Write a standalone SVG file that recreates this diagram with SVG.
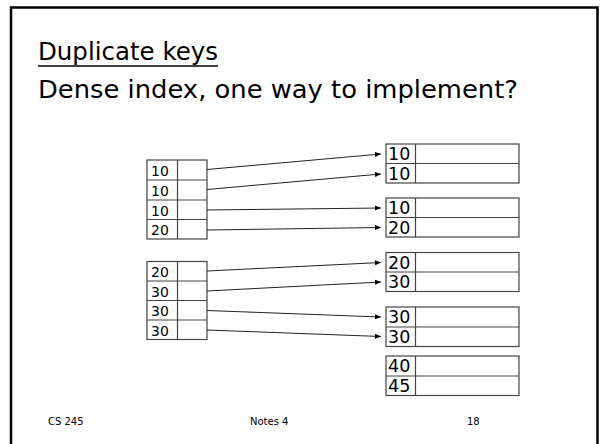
<svg xmlns="http://www.w3.org/2000/svg" width="600" height="444" viewBox="0 0 600 444">
<defs>
<marker id="ah" viewBox="0 0 6 6" refX="6" refY="3" markerWidth="6" markerHeight="6" markerUnits="userSpaceOnUse" orient="auto">
<path d="M0,0.5 L6,3 L0,5.5 Z" fill="#000"/>
</marker>
<style>
.box{fill:#fff;stroke:#444;stroke-width:1.2}
.ln{stroke:#444;stroke-width:1.2;fill:none}
.ix{font-family:"DejaVu Sans","Liberation Sans",sans-serif;font-size:14px;fill:#000}
.dv{font-family:"DejaVu Sans","Liberation Sans",sans-serif;font-size:17.5px;fill:#000}
.ttl{font-family:"DejaVu Sans","Liberation Sans",sans-serif;font-size:25px;fill:#000}
.ft{font-family:"DejaVu Sans","Liberation Sans",sans-serif;font-size:10px;fill:#000}
.arr{stroke:#222;stroke-width:1;fill:none;marker-end:url(#ah)}
</style>
</defs>
<rect x="0" y="0" width="600" height="444" fill="#fff"/>
<path d="M11,450 V7.5 H597.5 V450" fill="none" stroke="#000" stroke-width="2.5"/>
<g id="title">
<text class="ttl" x="38" y="60" textLength="180" lengthAdjust="spacingAndGlyphs">Duplicate keys</text>
<line x1="38" y1="66" x2="218" y2="66" stroke="#000" stroke-width="1.5"/>
<text class="ttl" x="38" y="98" textLength="480" lengthAdjust="spacingAndGlyphs">Dense index, one way to implement?</text>
</g>
<g id="index1">
<rect class="box" x="147" y="160" width="60" height="79"/>
<line class="ln" x1="177.5" y1="160" x2="177.5" y2="239"/>
<line class="ln" x1="147" y1="180" x2="207" y2="180"/>
<line class="ln" x1="147" y1="200" x2="207" y2="200"/>
<line class="ln" x1="147" y1="219.5" x2="207" y2="219.5"/>
<text class="ix" x="151" y="176">10</text>
<text class="ix" x="151" y="196">10</text>
<text class="ix" x="151" y="215.5">10</text>
<text class="ix" x="151" y="235">20</text>
</g>
<g id="index2">
<rect class="box" x="147" y="261.5" width="60" height="78"/>
<line class="ln" x1="177.5" y1="261.5" x2="177.5" y2="339.5"/>
<line class="ln" x1="147" y1="281" x2="207" y2="281"/>
<line class="ln" x1="147" y1="300.5" x2="207" y2="300.5"/>
<line class="ln" x1="147" y1="320" x2="207" y2="320"/>
<text class="ix" x="151" y="277">20</text>
<text class="ix" x="151" y="296.5">30</text>
<text class="ix" x="151" y="316">30</text>
<text class="ix" x="151" y="335.5">30</text>
</g>
<g id="block1">
<rect class="box" x="386" y="144" width="133" height="39"/>
<line class="ln" x1="386" y1="163.5" x2="519" y2="163.5"/>
<line class="ln" x1="415.5" y1="144" x2="415.5" y2="183"/>
<text class="dv" x="388" y="160">10</text>
<text class="dv" x="388" y="179.5">10</text>
</g>
<g id="block2">
<rect class="box" x="386" y="198" width="133" height="39"/>
<line class="ln" x1="386" y1="217.5" x2="519" y2="217.5"/>
<line class="ln" x1="415.5" y1="198" x2="415.5" y2="237"/>
<text class="dv" x="388" y="214">10</text>
<text class="dv" x="388" y="233.5">20</text>
</g>
<g id="block3">
<rect class="box" x="386" y="252.5" width="133" height="39"/>
<line class="ln" x1="386" y1="272" x2="519" y2="272"/>
<line class="ln" x1="415.5" y1="252.5" x2="415.5" y2="291.5"/>
<text class="dv" x="388" y="268.5">20</text>
<text class="dv" x="388" y="288">30</text>
</g>
<g id="block4">
<rect class="box" x="386" y="307" width="133" height="39.5"/>
<line class="ln" x1="386" y1="327" x2="519" y2="327"/>
<line class="ln" x1="415.5" y1="307" x2="415.5" y2="346.5"/>
<text class="dv" x="388" y="323">30</text>
<text class="dv" x="388" y="342.5">30</text>
</g>
<g id="block5">
<rect class="box" x="386" y="356" width="133" height="39.5"/>
<line class="ln" x1="386" y1="376" x2="519" y2="376"/>
<line class="ln" x1="415.5" y1="356" x2="415.5" y2="395.5"/>
<text class="dv" x="388" y="372">40</text>
<text class="dv" x="388" y="391.5">45</text>
</g>
<g id="connectors">
<line class="arr" x1="207" y1="169.5" x2="381" y2="154"/>
<line class="arr" x1="207" y1="189.5" x2="381" y2="174"/>
<line class="arr" x1="207" y1="210" x2="381" y2="208"/>
<line class="arr" x1="207" y1="230" x2="381" y2="227.5"/>
<line class="arr" x1="207" y1="271" x2="381" y2="262.5"/>
<line class="arr" x1="207" y1="291" x2="381" y2="282"/>
<line class="arr" x1="207" y1="310.5" x2="381" y2="317"/>
<line class="arr" x1="207" y1="330" x2="381" y2="336.5"/>
</g>
<g id="footer">
<text class="ft" x="48" y="425">CS 245</text>
<text class="ft" x="250" y="425">Notes 4</text>
<text class="ft" x="467" y="425">18</text>
</g>
</svg>
